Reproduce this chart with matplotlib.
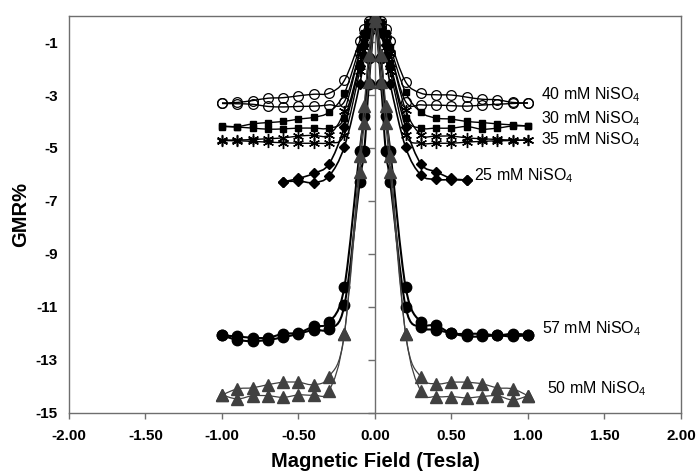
import numpy as np
import matplotlib.pyplot as plt
from matplotlib.path import Path
from matplotlib.patches import PathPatch

plt.rcParams['font.family'] = ['Liberation Sans', 'DejaVu Sans']
plt.rcParams['mathtext.fontset'] = 'custom'
plt.rcParams['mathtext.rm'] = 'Liberation Sans'

# field sweep points (Tesla)
field = [-1.0, -0.9, -0.8, -0.7, -0.6, -0.5, -0.4, -0.3, -0.2, -0.1, -0.07, -0.04, 0.0,
         0.04, 0.07, 0.1, 0.2, 0.3, 0.4, 0.5, 0.6, 0.7, 0.8, 0.9, 1.0]
field_25 = [-0.6, -0.5, -0.4, -0.3, -0.2, -0.1, -0.07, -0.04, 0.0,
            0.04, 0.07, 0.1, 0.2, 0.3, 0.4, 0.5, 0.6]

# GMR% for each bath, two sweep directions each
gmr_40_a = [-3.30, -3.28, -3.21, -3.12, -3.10, -3.03, -2.97, -2.93, -2.45, -0.97, -0.50, -0.20, 0.0,
            -0.20, -0.50, -0.97, -2.50, -2.93, -2.99, -3.00, -3.08, -3.16, -3.18, -3.28, -3.30]
gmr_40_b = [-3.32, -3.33, -3.35, -3.43, -3.45, -3.43, -3.42, -3.37, -3.25, -1.40, -0.80, -0.35, -0.05,
            -0.35, -0.80, -1.40, -3.25, -3.37, -3.38, -3.40, -3.42, -3.38, -3.35, -3.32, -3.30]

gmr_30_a = [-4.17, -4.19, -4.09, -4.04, -4.00, -3.91, -3.84, -3.65, -2.93, -1.20, -0.65, -0.25, 0.0,
            -0.25, -0.65, -1.20, -2.90, -3.65, -3.87, -3.91, -4.00, -4.04, -4.09, -4.13, -4.17]
gmr_30_b = [-4.19, -4.21, -4.25, -4.29, -4.28, -4.25, -4.25, -4.25, -3.87, -1.80, -1.00, -0.45, -0.10,
            -0.45, -1.00, -1.80, -3.87, -4.25, -4.25, -4.25, -4.19, -4.29, -4.25, -4.17, -4.17]

gmr_35_a = [-4.70, -4.70, -4.68, -4.65, -4.62, -4.55, -4.52, -4.50, -3.60, -1.40, -0.75, -0.30, -0.05,
            -0.30, -0.75, -1.40, -3.55, -4.50, -4.55, -4.55, -4.62, -4.65, -4.68, -4.70, -4.70]
gmr_35_b = [-4.72, -4.73, -4.75, -4.78, -4.80, -4.82, -4.82, -4.80, -4.50, -2.10, -1.20, -0.50, -0.15,
            -0.50, -1.20, -2.10, -4.50, -4.82, -4.82, -4.82, -4.78, -4.75, -4.73, -4.72, -4.70]

gmr_25_a = [-6.28, -6.15, -5.96, -5.60, -4.19, -1.90, -1.10, -0.45, -0.10,
            -0.45, -1.10, -1.90, -4.20, -5.60, -5.90, -6.15, -6.21]
gmr_25_b = [-6.28, -6.25, -6.31, -6.06, -4.95, -2.60, -1.50, -0.65, -0.20,
            -0.65, -1.50, -2.60, -4.97, -6.02, -6.19, -6.20, -6.21]

gmr_57_a = [-12.08, -12.12, -12.17, -12.17, -12.02, -11.98, -11.74, -11.58, -10.25, -5.10, -3.80, -1.60, -0.05,
            -1.60, -3.80, -5.10, -10.25, -11.58, -11.70, -12.00, -12.02, -12.02, -12.08, -12.02, -12.06]
gmr_57_b = [-12.08, -12.25, -12.30, -12.25, -12.15, -12.02, -11.87, -11.83, -10.95, -6.30, -5.10, -2.60, -0.30,
            -2.60, -5.10, -6.30, -11.00, -11.77, -11.87, -12.00, -12.12, -12.12, -12.08, -12.12, -12.06]

gmr_50_a = [-14.33, -14.10, -14.06, -13.94, -13.85, -13.85, -13.94, -13.64, -12.02, -5.30, -3.40, -1.50, 0.0,
            -1.50, -3.40, -5.30, -12.02, -13.66, -13.91, -13.85, -13.85, -13.91, -14.06, -14.10, -14.36]
gmr_50_b = [-14.33, -14.48, -14.36, -14.36, -14.42, -14.33, -14.33, -14.17, -12.02, -5.90, -4.05, -2.50, -0.20,
            -2.50, -4.05, -5.90, -12.02, -14.19, -14.39, -14.39, -14.44, -14.39, -14.36, -14.52, -14.36]

labels = ['40 mM NiSO$_\\mathregular{4}$', '30 mM NiSO$_\\mathregular{4}$',
          '35 mM NiSO$_\\mathregular{4}$', '25 mM NiSO$_\\mathregular{4}$',
          '57 mM NiSO$_\\mathregular{4}$', '50 mM NiSO$_\\mathregular{4}$']
label_x = [1.083, 1.083, 1.083, 0.647, 1.09, 1.124]
label_y = [-2.99, -3.88, -4.67, -6.06, -11.82, -14.09]

xticks = [-2.0, -1.5, -1.0, -0.5, 0.0, 0.5, 1.0, 1.5, 2.0]
yticks = [-1, -3, -5, -7, -9, -11, -13, -15]


def smooth_path(x, y):
    # spreadsheet-style smoothed line: cubic Bezier through every point
    p = np.column_stack([x, y]).astype(float)
    ext = np.vstack([p[0], p, p[-1]])
    verts = [p[0]]
    codes = [Path.MOVETO]
    for i in range(len(p) - 1):
        c1 = ext[i + 1] + (ext[i + 2] - ext[i]) / 6.0
        c2 = ext[i + 2] - (ext[i + 3] - ext[i + 1]) / 6.0
        verts += [c1, c2, p[i + 1]]
        codes += [Path.CURVE4] * 3
    return Path(verts, codes)


fig = plt.figure(figsize=(6.99, 4.73), dpi=100)
ax = fig.add_axes([0.0987, 0.1275, 0.8755, 0.8395])

axis_grey = '#6e6e6e'

# vertical axis crossing at zero field
ax.axvline(0, color=axis_grey, lw=1.0, zorder=1)
ax.plot(np.zeros(len(yticks)), yticks, ls='none', marker=0, ms=5,
        mec=axis_grey, mew=1.0, zorder=1, clip_on=False)

line_styles = [
    dict(color='black', lw=1.0),
    dict(color='black', lw=1.0),
    dict(color='black', lw=1.0),
    dict(color='black', lw=1.2),
    dict(color='black', lw=1.5),
    dict(color='#404040', lw=0.9),
]
marker_styles = [
    dict(marker='o', ms=7, mfc='none', mec='black', mew=0.9),
    dict(marker='s', ms=4.5, mfc='black', mec='black'),
    dict(marker=(6, 2, 0), ms=8, mec='black', mew=1.0),
    dict(marker='D', ms=5.5, mfc='black', mec='black'),
    dict(marker='o', ms=7.5, mfc='black', mec='black'),
    dict(marker='^', ms=8, mfc='#404040', mec='#404040'),
]
series = [
    (field, gmr_40_a, gmr_40_b),
    (field, gmr_30_a, gmr_30_b),
    (field, gmr_35_a, gmr_35_b),
    (field_25, gmr_25_a, gmr_25_b),
    (field, gmr_57_a, gmr_57_b),
    (field, gmr_50_a, gmr_50_b),
]
for i, ((x, ya, yb), ls, ms) in enumerate(zip(series, line_styles, marker_styles)):
    for y in (ya, yb):
        ax.add_patch(PathPatch(smooth_path(x, y), fill=False, zorder=3 + i,
                               edgecolor=ls['color'], lw=ls['lw']))
        ax.plot(x, y, ls='none', zorder=3 + i, **ms)

for txt, tx, ty in zip(labels, label_x, label_y):
    ax.text(tx, ty, txt, fontsize=11.5, ha='left', va='center')

ax.set_xlim(-2.0, 2.0)
ax.set_ylim(-15, 0)
ax.set_xticks(xticks)
ax.set_xticklabels(['%.2f' % v for v in xticks], fontweight='bold', fontsize=11)
ax.set_yticks(yticks)
ax.set_yticklabels([str(v) for v in yticks], fontweight='bold', fontsize=11)
ax.tick_params(axis='x', direction='out', length=4, width=1.0, color=axis_grey, pad=8)
ax.tick_params(axis='y', length=0, pad=8)
for sp in ax.spines.values():
    sp.set_color(axis_grey)
    sp.set_linewidth(1.0)

ax.set_xlabel('Magnetic Field (Tesla)', fontsize=14.5, fontweight='bold', labelpad=6)
ax.set_ylabel('GMR%', fontsize=14.5, fontweight='bold', labelpad=4)

fig.savefig('out.png', dpi=100)
